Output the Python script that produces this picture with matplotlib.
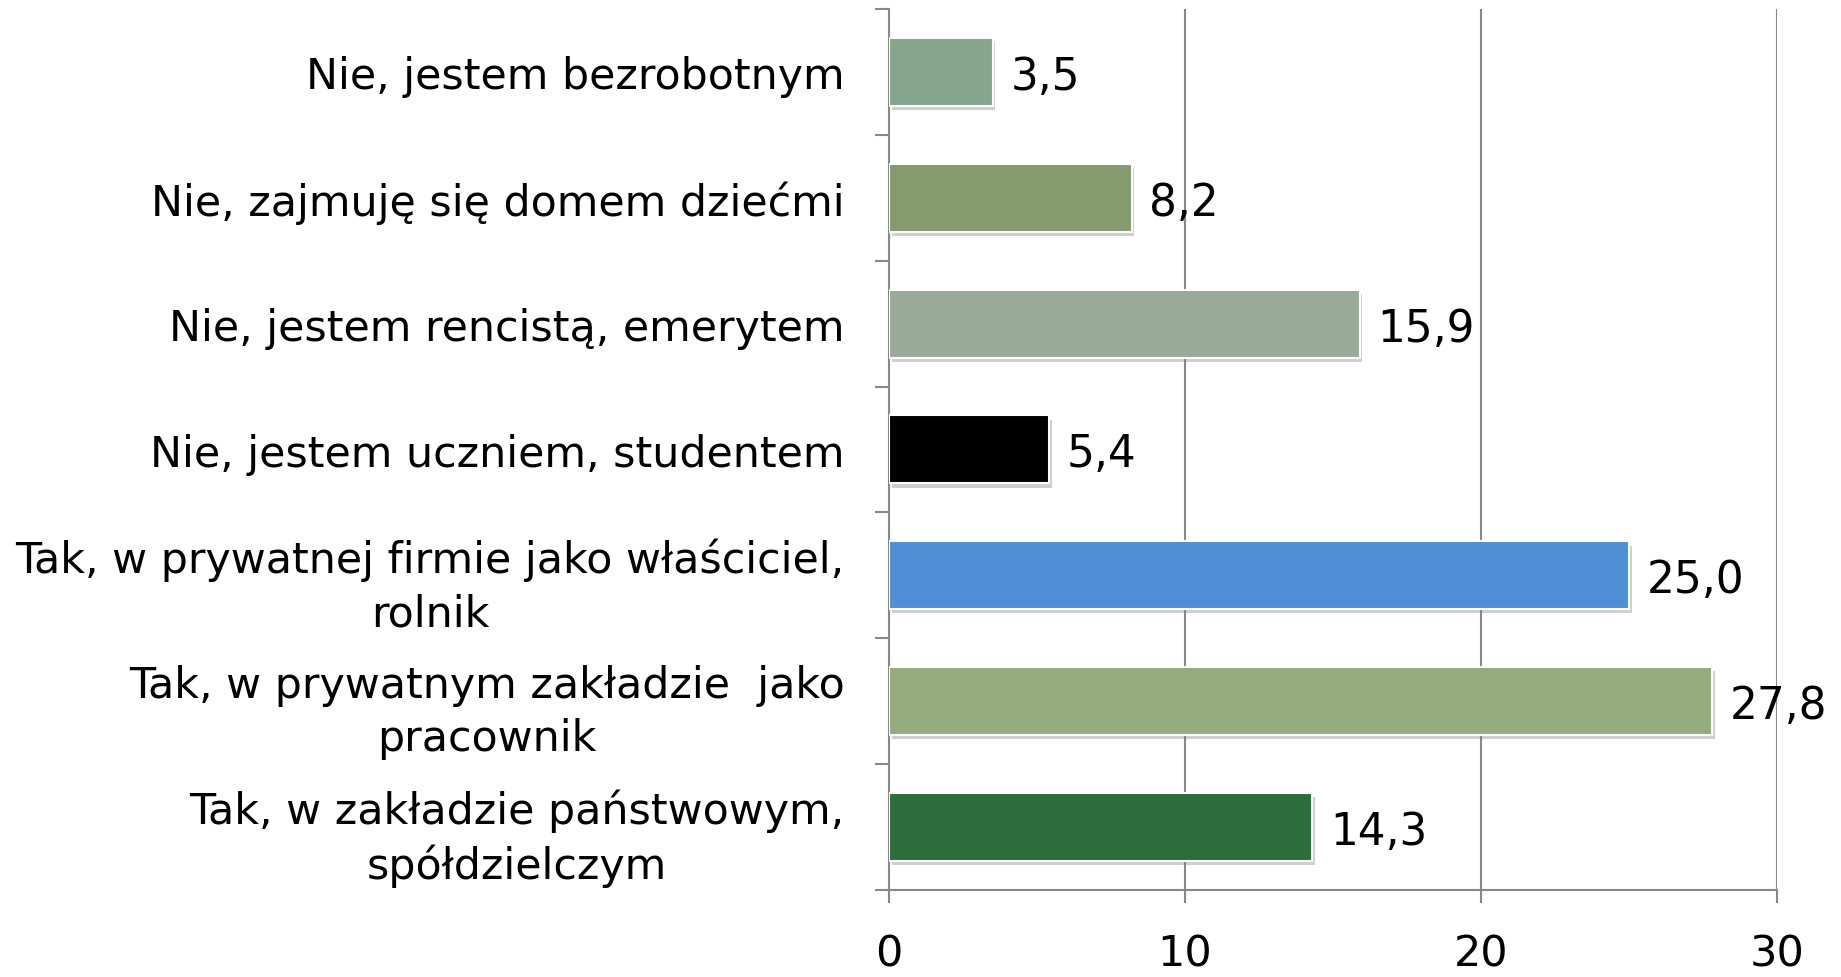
import matplotlib.pyplot as plt
import matplotlib.patheffects as pe
import numpy as np

categories = [
    "Nie, jestem bezrobotnym",
    "Nie, zajmuję się domem dziećmi",
    "Nie, jestem rencistą, emerytem",
    "Nie, jestem uczniem, studentem",
    "Tak, w prywatnej firmie jako właściciel,\nrolnik",
    "Tak, w prywatnym zakładzie  jako\npracownik",
    "Tak, w zakładzie państwowym,\nspółdzielczym",
]
values = [3.5, 8.2, 15.9, 5.4, 25.0, 27.8, 14.3]
colors = ["#86A58D", "#869A70", "#9AAA9A", "#000000", "#4F8FD6", "#94AC7D", "#2B6D3B"]
xticks = [0, 10, 20, 30]

fig = plt.figure(figsize=(18.41, 9.78), dpi=100)
ax = fig.add_axes([0.4829, 0.0890, 0.9652 - 0.4829, 0.9898 - 0.0890])

y = np.arange(len(categories))
bars = ax.barh(y, values, height=0.54, color=colors, edgecolor="white", linewidth=1.5, zorder=3)
for b in bars:
    b.set_path_effects([pe.SimplePatchShadow(offset=(2, -3), alpha=0.35, shadow_rgbFace="#777777"),
                        pe.Normal()])

for yi, v in zip(y, values):
    ax.text(v + 0.6, yi, f"{v:.1f}".replace(".", ","), va="center_baseline", ha="left",
            fontsize=31.5, color="black", zorder=4)

ax.set_xlim(0, 30)
ax.set_ylim(len(categories) - 0.5, -0.5)
ax.set_xticks(xticks)
ax.set_xticklabels([str(t) for t in xticks], fontsize=31)
ax.tick_params(axis="x", direction="out", length=9.5, width=1.5, color="#888888", pad=21)

ax.set_yticks(np.arange(len(categories) + 1) - 0.5)
ax.set_yticklabels([])
ax.set_yticks(y, minor=True)
ax.set_yticklabels(categories, minor=True, fontsize=30.8, linespacing=1.35,
                   ha="right", multialignment="center")
ax.tick_params(axis="y", which="major", direction="out", length=10, width=1.5, color="#888888")
ax.tick_params(axis="y", which="minor", length=0, pad=32)

ax.grid(axis="x", color="#888888", linewidth=1.5, zorder=0)
ax.set_axisbelow(True)
for s in ["top", "right"]:
    ax.spines[s].set_visible(False)
for s in ["left", "bottom"]:
    ax.spines[s].set_color("#888888")
    ax.spines[s].set_linewidth(1.5)

fig.savefig("out.png", dpi=100)
